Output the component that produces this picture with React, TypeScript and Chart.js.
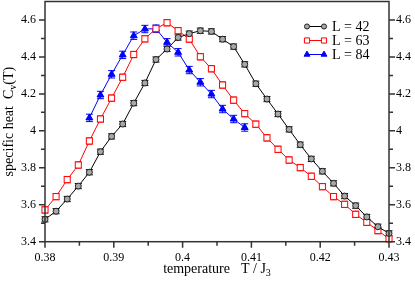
import React, { useEffect, useRef } from 'react';
import { Chart, registerables } from 'chart.js';
import { drawPoint } from 'chart.js/helpers';

Chart.register(...registerables);

// ---- data ----
const T = [
  0.38, 0.38161, 0.38323, 0.38484, 0.38645, 0.38806, 0.38968, 0.39129,
  0.3929, 0.39452, 0.39613, 0.39774, 0.39935, 0.40097, 0.40258, 0.40419,
  0.40581, 0.40742, 0.40903, 0.41065, 0.41226, 0.41387, 0.41548, 0.4171,
  0.41871, 0.42032, 0.42194, 0.42355, 0.42516, 0.42677, 0.42839, 0.43,
];
const CV_L42 = [
  3.521, 3.565, 3.631, 3.701, 3.776, 3.887, 3.97, 4.037,
  4.15, 4.259, 4.386, 4.443, 4.505, 4.526, 4.542, 4.538,
  4.496, 4.456, 4.36, 4.255, 4.172, 4.091, 4.008, 3.925,
  3.848, 3.781, 3.716, 3.647, 3.595, 3.534, 3.481, 3.445,
];
const CV_L63 = [
  3.572, 3.644, 3.736, 3.815, 3.945, 4.064, 4.177, 4.29,
  4.413, 4.498, 4.553, 4.585, 4.542, 4.497, 4.401, 4.336,
  4.248, 4.166, 4.093, 4.036, 3.962, 3.9, 3.842, 3.801,
  3.754, 3.698, 3.644, 3.602, 3.548, 3.505, 3.46, 3.416,
];
const T_L84 = [
  0.38645, 0.38806, 0.38968, 0.39129, 0.3929, 0.39452, 0.39613, 0.39774,
  0.39935, 0.40097, 0.40258, 0.40419, 0.40581, 0.40742, 0.40903,
];
const CV_L84 = [
  4.07, 4.194, 4.306, 4.411, 4.515, 4.551, 4.553, 4.479,
  4.425, 4.329, 4.263, 4.199, 4.118, 4.064, 4.018,
];
const ERR_L42 = 0.014;
const ERR_L63 = 0.017;
const ERR_L84 = 0.02;
const LABELS = ['L = 42', 'L = 63', 'L = 84'];

const X_TICKS = [0.38, 0.39, 0.4, 0.41, 0.42, 0.43];
const X_MINOR = [0.385, 0.395, 0.405, 0.415, 0.425];
const Y_TICKS = [3.4, 3.6, 3.8, 4.0, 4.2, 4.4, 4.6];
const Y_MINOR = [3.5, 3.7, 3.9, 4.1, 4.3, 4.5];

const X_TITLE = 'temperature';
const X_TITLE_VAR = 'T / J';
const X_TITLE_SUB = '3';
const Y_TITLE = 'specific heat';
const Y_TITLE_VAR = 'C';
const Y_TITLE_SUB = 'v';
const Y_TITLE_END = '(T)';

const SERIF = '"Liberation Serif", "Times New Roman", serif';

const fmt = (v: number) => String(Number(Number(v).toFixed(3)));

const STYLES = [
  { color: '#000000', pointStyle: 'circle', radius: 3, bg: '#a8a8a8', border: '#222', err: ERR_L42 },
  { color: '#ff0000', pointStyle: 'rect', radius: 4.3, bg: '#ffffff', border: '#ff0000', err: ERR_L63 },
  { color: '#0000ff', pointStyle: 'triangle', radius: 4, bg: '#0000ff', border: '#0000ff', err: ERR_L84 },
];

const decorPlugin = {
  id: 'decor',
  beforeDatasetsDraw(chart: any) {
    const ctx = chart.ctx;
    const xs = chart.scales.x;
    const ys = chart.scales.y;
    ctx.save();
    chart.data.datasets.forEach((ds: any, di: number) => {
      const st = STYLES[di];
      ctx.strokeStyle = st.color;
      ctx.lineWidth = 1;
      ds.data.forEach((p: any) => {
        const x = xs.getPixelForValue(p.x);
        const y1 = ys.getPixelForValue(p.y + st.err);
        const y2 = ys.getPixelForValue(p.y - st.err);
        ctx.beginPath();
        ctx.moveTo(x, y1);
        ctx.lineTo(x, y2);
        ctx.moveTo(x - 3.5, y1);
        ctx.lineTo(x + 3.5, y1);
        ctx.moveTo(x - 3.5, y2);
        ctx.lineTo(x + 3.5, y2);
        ctx.stroke();
      });
    });
    ctx.restore();
  },
  afterDraw(chart: any) {
    const ctx = chart.ctx;
    const a = chart.chartArea;
    const xs = chart.scales.x;
    const ys = chart.scales.y;
    ctx.save();
    // frame
    ctx.strokeStyle = '#333';
    ctx.lineWidth = 1.5;
    ctx.strokeRect(a.left, a.top, a.right - a.left, a.bottom - a.top);
    // ticks
    ctx.beginPath();
    X_TICKS.forEach((v) => {
      const x = xs.getPixelForValue(v);
      ctx.moveTo(x, a.bottom);
      ctx.lineTo(x, a.bottom + 6);
    });
    X_MINOR.forEach((v) => {
      const x = xs.getPixelForValue(v);
      ctx.moveTo(x, a.bottom);
      ctx.lineTo(x, a.bottom + 4);
    });
    Y_TICKS.forEach((v) => {
      const y = ys.getPixelForValue(v);
      ctx.moveTo(a.left, y);
      ctx.lineTo(a.left - 6, y);
      ctx.moveTo(a.right, y);
      ctx.lineTo(a.right + 6, y);
    });
    Y_MINOR.forEach((v) => {
      const y = ys.getPixelForValue(v);
      ctx.moveTo(a.left, y);
      ctx.lineTo(a.left - 4, y);
      ctx.moveTo(a.right, y);
      ctx.lineTo(a.right + 4, y);
    });
    ctx.stroke();

    // legend
    const lx0 = a.right - 82;
    const lx1 = a.right - 65;
    const tx = a.right - 57;
    ctx.font = `14px ${SERIF}`;
    ctx.textBaseline = 'middle';
    ctx.textAlign = 'left';
    LABELS.forEach((lab, i) => {
      const st = STYLES[i];
      const y = a.top + 25 + i * 14;
      ctx.strokeStyle = st.color;
      ctx.lineWidth = 1;
      ctx.beginPath();
      ctx.moveTo(lx0, y);
      ctx.lineTo(lx1, y);
      ctx.stroke();
      const opts = {
        pointStyle: st.pointStyle,
        radius: st.radius * 0.85,
        rotation: 0,
        borderWidth: 1,
      };
      ctx.fillStyle = st.bg;
      ctx.strokeStyle = st.border;
      drawPoint(ctx, opts as any, lx0, y);
      drawPoint(ctx, opts as any, lx1, y);
      ctx.fillStyle = '#000';
      ctx.fillText(lab, tx, y + 1);
    });

    // x title
    ctx.fillStyle = '#000';
    ctx.textBaseline = 'alphabetic';
    ctx.font = `14px ${SERIF}`;
    const gap = 11;
    const w1 = ctx.measureText(X_TITLE).width;
    const w2 = ctx.measureText(X_TITLE_VAR).width;
    ctx.font = `10px ${SERIF}`;
    const w3 = ctx.measureText(X_TITLE_SUB).width;
    const total = w1 + gap + w2 + w3;
    let x = (a.left + a.right) / 2 - total / 2;
    const by = 273;
    ctx.font = `14px ${SERIF}`;
    ctx.fillText(X_TITLE, x, by);
    x += w1 + gap;
    ctx.fillText(X_TITLE_VAR, x, by);
    x += w2;
    ctx.font = `10px ${SERIF}`;
    ctx.fillText(X_TITLE_SUB, x, by + 3);

    // y title (rotated)
    ctx.save();
    const cy = (a.top + a.bottom) / 2;
    ctx.translate(13, cy);
    ctx.rotate(-Math.PI / 2);
    ctx.font = `14px ${SERIF}`;
    const yw1 = ctx.measureText(Y_TITLE).width;
    const yw2 = ctx.measureText(Y_TITLE_VAR).width;
    const yw4 = ctx.measureText(Y_TITLE_END).width;
    ctx.font = `10px ${SERIF}`;
    const yw3 = ctx.measureText(Y_TITLE_SUB).width;
    const ygap = 7;
    const ytot = yw1 + ygap + yw2 + yw3 + yw4;
    let px = -ytot / 2;
    ctx.font = `14px ${SERIF}`;
    ctx.fillText(Y_TITLE, px, 0);
    px += yw1 + ygap;
    ctx.fillText(Y_TITLE_VAR, px, 0);
    px += yw2;
    ctx.font = `10px ${SERIF}`;
    ctx.fillText(Y_TITLE_SUB, px, 3);
    px += yw3;
    ctx.font = `14px ${SERIF}`;
    ctx.fillText(Y_TITLE_END, px, 0);
    ctx.restore();

    ctx.restore();
  },
};

export default function App() {
  const ref = useRef<HTMLCanvasElement | null>(null);
  useEffect(() => {
    if (!ref.current) return;
    const mk = (xs: number[], ys: number[]) => xs.map((x, i) => ({ x, y: ys[i] }));
    const series = [mk(T, CV_L42), mk(T, CV_L63), mk(T_L84, CV_L84)];
    const tickFont = { family: SERIF, size: 12 };
    const chart = new Chart(ref.current, {
      type: 'scatter',
      data: {
        datasets: series.map((d, i) => ({
          label: LABELS[i],
          data: d,
          showLine: true,
          borderColor: STYLES[i].color,
          borderWidth: 1,
          pointStyle: STYLES[i].pointStyle as any,
          pointRadius: STYLES[i].radius,
          pointBackgroundColor: STYLES[i].bg,
          pointBorderColor: STYLES[i].border,
          pointBorderWidth: 1,
          clip: false as any,
          yAxisID: 'y',
        })),
      },
      options: {
        animation: false,
        responsive: true,
        maintainAspectRatio: false,
        layout: { padding: { top: 1.5, left: 0, right: 0, bottom: 0 }, autoPadding: false } as any,
        plugins: { legend: { display: false }, tooltip: { enabled: false } },
        scales: {
          x: {
            type: 'linear',
            min: 0.38,
            max: 0.43,
            grid: { display: false, drawTicks: false },
            border: { display: false },
            afterBuildTicks: (s: any) => { s.ticks = X_TICKS.map((v) => ({ value: v })); },
            afterFit: (s: any) => { s.height = 39.3; s.paddingLeft = 0; s.paddingRight = 0; },
            ticks: { font: tickFont, color: '#000', padding: 9, maxRotation: 0, callback: (v: any) => fmt(v) },
          },
          y: {
            type: 'linear',
            position: 'left',
            min: 3.4,
            max: 4.7,
            grid: { display: false, drawTicks: false },
            border: { display: false },
            afterBuildTicks: (s: any) => { s.ticks = Y_TICKS.map((v) => ({ value: v })); },
            afterFit: (s: any) => { s.width = 45; s.paddingTop = 0; s.paddingBottom = 0; },
            ticks: { font: tickFont, color: '#000', padding: 9, callback: (v: any) => fmt(v) },
          },
          y2: {
            type: 'linear',
            position: 'right',
            min: 3.4,
            max: 4.7,
            grid: { display: false, drawTicks: false },
            border: { display: false },
            afterBuildTicks: (s: any) => { s.ticks = Y_TICKS.map((v) => ({ value: v })); },
            afterFit: (s: any) => { s.width = 26; s.paddingTop = 0; s.paddingBottom = 0; },
            ticks: { font: tickFont, color: '#000', padding: 7, callback: (v: any) => fmt(v) },
          },
        },
      },
      plugins: [decorPlugin],
    });
    return () => chart.destroy();
  }, []);
  return (
    <div style={{ position: 'fixed', left: 0, top: 0, width: 415, height: 281, background: '#fff' }}>
      <canvas ref={ref} />
    </div>
  );
}
